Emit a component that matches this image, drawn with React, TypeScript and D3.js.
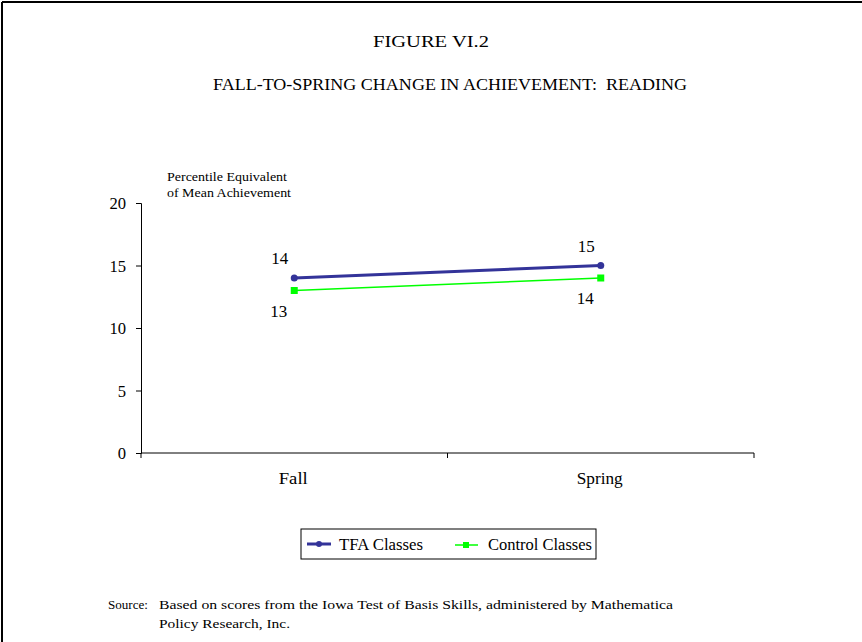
// Figure VI.2 - Fall-to-spring change in reading achievement
import React, { useEffect, useRef } from 'react';
import * as d3 from 'd3';

const seasons = ['Fall', 'Spring'];
const tfaValues = [14, 15];
const controlValues = [13, 14];
const yTicks = [0, 5, 10, 15, 20];
const seriesNames = ['TFA Classes', 'Control Classes'];

const App: React.FC = () => {
  const svgRef = useRef<SVGSVGElement>(null);

  useEffect(() => {
    if (!svgRef.current) return;
    const svg = d3.select(svgRef.current);
    svg.selectAll('*').remove();

    const font = '"Liberation Serif", "Times New Roman", Times, serif';
    const tfaColor = '#333399';
    const ctrlColor = '#00ff00';

    // text helper; width stretches glyphs to the reference's wider face
    const addText = (str: string, x: number, y: number, size: number, width?: number, anchor = 'start') => {
      const t = svg.append('text').attr('x', x).attr('y', y).attr('font-family', font)
        .attr('font-size', size).attr('text-anchor', anchor).attr('fill', '#000')
        .style('white-space', 'pre').text(str);
      if (width) t.attr('textLength', width).attr('lengthAdjust', 'spacingAndGlyphs');
      return t;
    };

    // frame (top and left edges only)
    svg.append('line').attr('x1', 2).attr('x2', 862).attr('y1', 2).attr('y2', 2)
      .attr('stroke', '#000').attr('stroke-width', 2);
    svg.append('line').attr('x1', 2).attr('x2', 2).attr('y1', 2).attr('y2', 642)
      .attr('stroke', '#000').attr('stroke-width', 2);

    // titles
    addText('FIGURE VI.2', 373, 47, 17, 116);
    addText('FALL-TO-SPRING CHANGE IN ACHIEVEMENT:  READING', 213, 90, 17, 474);

    const x = d3.scaleBand().domain(seasons).range([141, 754]);
    const y = d3.scaleLinear().domain([0, 20]).range([453, 203]);
    const cx = (s: string) => (x(s) as number) + x.bandwidth() / 2;

    // y axis title
    addText('Percentile Equivalent', 167, 181, 13.5, 120);
    addText('of Mean Achievement', 167, 197, 13.5, 124);

    // y axis
    const yAxis = svg.append('g').attr('transform', 'translate(141,0)')
      .call(d3.axisLeft(y).tickValues(yTicks).tickSize(5).tickPadding(0).tickFormat(() => ''));
    yAxis.select('.domain').attr('stroke', '#000');
    yTicks.forEach(v => {
      addText(String(v), 126, y(v) + 6, 17, String(v).length * 8.3, 'end');
    });

    // x axis with ticks at band edges
    svg.append('line').attr('x1', 141).attr('x2', 754).attr('y1', 453).attr('y2', 453)
      .attr('stroke', '#000');
    [141, ...seasons.map(s => (x(s) as number) + x.bandwidth())].forEach(px => {
      svg.append('line').attr('x1', px).attr('x2', px).attr('y1', 453).attr('y2', 458)
        .attr('stroke', '#000');
    });
    const seasonWidths = [29, 46];
    seasons.forEach((s, i) => {
      addText(s, cx(s) - seasonWidths[i] / 2 - 1, 484, 17, seasonWidths[i]);
    });

    const line = d3.line<number>().x((d, i) => cx(seasons[i])).y(d => y(d));

    // control series
    svg.append('path').datum(controlValues).attr('d', line).attr('fill', 'none')
      .attr('stroke', ctrlColor).attr('stroke-width', 1.5);
    controlValues.forEach((v, i) => {
      svg.append('rect').attr('x', cx(seasons[i]) - 3.5).attr('y', y(v) - 3.5)
        .attr('width', 7).attr('height', 7).attr('fill', ctrlColor);
      addText(String(v), cx(seasons[i]) - 24, y(v) + 26, 17, 17);
    });

    // TFA series
    svg.append('path').datum(tfaValues).attr('d', line).attr('fill', 'none')
      .attr('stroke', tfaColor).attr('stroke-width', 3);
    tfaValues.forEach((v, i) => {
      svg.append('circle').attr('cx', cx(seasons[i])).attr('cy', y(v)).attr('r', 3.5)
        .attr('fill', tfaColor);
      addText(String(v), cx(seasons[i]) - 23, y(v) - 14, 17, 17);
    });

    // legend
    const lg = svg.append('g');
    lg.append('rect').attr('x', 301).attr('y', 529).attr('width', 295).attr('height', 30)
      .attr('fill', 'none').attr('stroke', '#000');
    lg.append('line').attr('x1', 307).attr('x2', 331).attr('y1', 544).attr('y2', 544)
      .attr('stroke', tfaColor).attr('stroke-width', 3);
    lg.append('circle').attr('cx', 319).attr('cy', 544).attr('r', 3).attr('fill', tfaColor);
    addText(seriesNames[0], 339, 550, 16, 84);
    lg.append('line').attr('x1', 455).attr('x2', 478).attr('y1', 545).attr('y2', 545)
      .attr('stroke', ctrlColor).attr('stroke-width', 1.5);
    lg.append('rect').attr('x', 463).attr('y', 542).attr('width', 6).attr('height', 6)
      .attr('fill', ctrlColor);
    addText(seriesNames[1], 488, 550, 16, 104);

    // source note
    addText('Source:', 108, 609, 13.5, 40);
    addText('Based on scores from the Iowa Test of Basis Skills, administered by Mathematica', 159, 609, 13.5, 514);
    addText('Policy Research, Inc.', 159, 628, 13.5, 131);
  }, []);

  return (
    <div style={{ position: 'absolute', left: 0, top: 0 }}>
      <svg ref={svgRef} width={862} height={642} style={{ display: 'block', background: '#fff' }} />
    </div>
  );
};

export default App;
